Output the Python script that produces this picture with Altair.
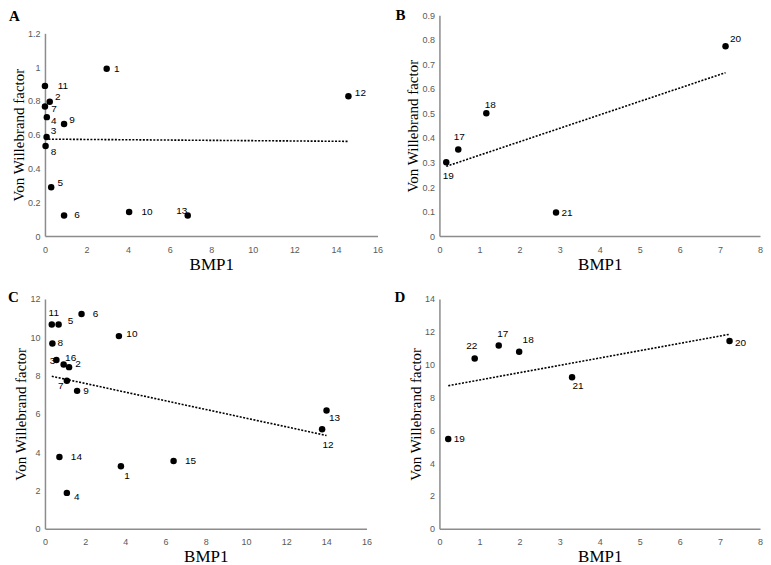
import altair as alt
import pandas as pd

# ---------------- data ----------------
# Panel A
A_ids = ["1", "11", "2", "7", "4", "9", "3", "8", "5", "6", "10", "13", "12"]
A_bmp1 = [2.97, 0.0, 0.23, 0.0, 0.09, 0.92, 0.08, 0.03, 0.30, 0.92, 4.05, 6.87, 14.6]
A_vwf = [0.99, 0.889, 0.795, 0.767, 0.704, 0.663, 0.586, 0.533, 0.289, 0.122, 0.142, 0.122, 0.828]

# Panel B
B_ids = ["20", "18", "17", "19", "21"]
B_bmp1 = [7.14, 1.17, 0.47, 0.17, 2.91]
B_vwf = [0.774, 0.501, 0.353, 0.301, 0.096]

# Panel C
C_ids = ["11", "5", "6", "10", "8", "3", "16", "2", "7", "9", "13", "12", "14", "1", "15", "4"]
C_bmp1 = [0.34, 0.68, 1.82, 3.68, 0.37, 0.57, 0.93, 1.20, 1.09, 1.60, 14.01, 13.79, 0.72, 3.78, 6.40, 1.09]
C_vwf = [10.67, 10.67, 11.22, 10.06, 9.68, 8.81, 8.58, 8.44, 7.73, 7.20, 6.17, 5.20, 3.75, 3.26, 3.54, 1.87]

# Panel D
D_ids = ["22", "17", "18", "21", "20", "19"]
D_bmp1 = [0.88, 1.48, 1.99, 3.31, 7.24, 0.22]
D_vwf = [10.37, 11.16, 10.79, 9.23, 11.44, 5.46]

# ---------------- label placement (pixel offsets of each point label) ----------------
A_lab_dx = [10, 18, 8, 9, 7, 8, 7, 8, 9, 13, 18, -6, 12]
A_lab_dy = [0, 0, -5, 3, 4, -4, -6, 6, -4, 0, 0, -4, -3]
B_lab_dx = [10, 4, 1, 2, 11]
B_lab_dy = [-7, -8, -13, 14, 0]
C_lab_dx = [2, 12, 14, 13, 8, -4, 7, 9, -6, 9, 8, 6, 17, 6, 17, 10]
C_lab_dy = [-11, -3, 0, -2, 0, 1, -6, -3, 5, 0, 7, 16, 0, 10, 0, 4]
D_lab_dx = [-3, 4, 9, 6, 11, 11]
D_lab_dy = [-13, -12, -12, 9, 2, 0]

SERIF = "Liberation Serif"
SANS = "Liberation Sans"


def frame(ids, xs, ys, dxs, dys):
    return pd.DataFrame({"id": ids, "x": xs, "y": ys, "dx": dxs, "dy": dys})


def panel(df, letter, xmax, xstep, ymax, ystep, w, h, ytop, tdx, tdy):
    xvals = list(range(0, xmax + 1, xstep))
    nY = int(round(ymax / ystep))
    yvals = [round(i * ystep, 2) for i in range(nY + 1)]
    xsc = alt.Scale(domain=[0, xmax], nice=False)
    if ytop:
        ysc = alt.Scale(domain=[0, ymax], nice=False, range=[h, ytop])
    else:
        ysc = alt.Scale(domain=[0, ymax], nice=False)
    xenc = alt.X("x:Q", scale=xsc,
                 axis=alt.Axis(values=xvals, tickCount=len(xvals), format="~g", title="BMP1",
                               labelOverlap=False, labelFlush=False,
                               titleFont=SERIF, titleFontSize=17, titleFontWeight="normal"))
    yenc = alt.Y("y:Q", scale=ysc,
                 axis=alt.Axis(values=yvals, tickCount=len(yvals), format="~g",
                               title="Von Willebrand factor",
                               labelOverlap=False, labelFlush=False,
                               titleFont=SERIF, titleFontSize=15, titleFontWeight="normal"))
    ux = xmax / w            # data units per pixel (x)
    uy = ymax / (h - ytop)   # data units per pixel (y)
    base = alt.Chart(df)
    trend = base.transform_regression("x", "y").mark_line(
        color="black", strokeDash=[2, 1.5], strokeWidth=1.6
    ).encode(x=xenc, y=yenc)
    pts = base.mark_circle(size=42, color="black", opacity=1).encode(x=xenc, y=yenc)
    labs = base.transform_calculate(
        lx=f"datum.x + datum.dx * {ux}",
        ly=f"datum.y - datum.dy * {uy}",
    ).mark_text(font=SANS, fontSize=10, color="black",
                align="center", baseline="middle").encode(
        x=alt.X("lx:Q", scale=xsc),
        y=alt.Y("ly:Q", scale=ysc),
        text="id:N",
    )
    return alt.layer(trend, pts, labs).properties(
        width=w, height=h,
        title=alt.TitleParams(text=letter, anchor="start", frame="group",
                              font=SERIF, fontSize=15, fontWeight="bold",
                              color="black", offset=0, dx=tdx, dy=tdy),
    )


pA = panel(frame(A_ids, A_bmp1, A_vwf, A_lab_dx, A_lab_dy), "A", 16, 2, 1.2, 0.2,
           333, 221, 18, -36, 9)
pB = panel(frame(B_ids, B_bmp1, B_vwf, B_lab_dx, B_lab_dy), "B", 8, 1, 0.9, 0.1,
           321, 221, 0, -44, 12)
pC = panel(frame(C_ids, C_bmp1, C_vwf, C_lab_dx, C_lab_dy), "C", 16, 2, 12, 2,
           322, 230, 0, -37, 10)
pD = panel(frame(D_ids, D_bmp1, D_vwf, D_lab_dx, D_lab_dy), "D", 8, 1, 14, 2,
           321, 230, 0, -45, 10)

chart = alt.concat(pA, pB, pC, pD, columns=2, spacing={"row": 63, "column": 62},
                   bounds="flush").properties(
    padding={"left": 0, "top": 0, "right": 0, "bottom": 0},
    background="white",
).configure_view(stroke=None).configure_axis(
    grid=False, ticks=False, domainColor="#8c8c8c", domainWidth=1.5,
    labelFont=SANS, labelFontSize=9, labelColor="#595959", labelOverlap=False,
    titleFont=SERIF, titleFontWeight="normal", titleColor="black",
).configure_axisX(
    labelPadding=9, titlePadding=2,
).configure_axisY(
    labelPadding=5, titlePadding=1,
)

chart.save("out.html", embed_options={"renderer": "svg", "actions": False})
